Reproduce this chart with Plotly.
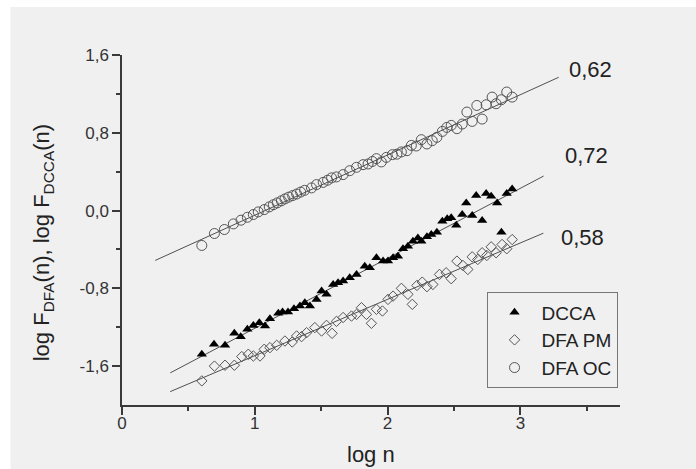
import numpy as np
import plotly.graph_objects as go

# ---- measured points (log n, log F) ----
dcca_x = [0.601, 0.693, 0.776, 0.846, 0.894, 0.944, 0.989, 1.034, 1.077, 1.114,
          1.177, 1.209, 1.250, 1.295, 1.340, 1.377, 1.415, 1.465, 1.503, 1.540,
          1.590, 1.627, 1.665, 1.715, 1.766, 1.828, 1.866, 1.916, 1.966, 2.003,
          2.041, 2.078, 2.116, 2.153, 2.191, 2.228, 2.254, 2.296, 2.329, 2.371,
          2.412, 2.449, 2.479, 2.517, 2.562, 2.592, 2.637, 2.667, 2.712, 2.742,
          2.780, 2.825, 2.857, 2.897, 2.938]
dcca_y = [-1.478, -1.376, -1.386, -1.263, -1.297, -1.222, -1.181, -1.153, -1.188, -1.112,
          -1.057, -1.044, -1.044, -1.009, -0.982, -0.948, -0.982, -0.914, -0.828, -0.862,
          -0.760, -0.742, -0.725, -0.691, -0.657, -0.572, -0.588, -0.486, -0.520, -0.520,
          -0.486, -0.469, -0.393, -0.366, -0.315, -0.281, -0.315, -0.270, -0.246, -0.223,
          -0.110, -0.085, -0.075, -0.151, -0.041, 0.079, -0.051, 0.154, -0.103, 0.175,
          0.147, 0.079, -0.223, 0.175, 0.223]

pm_x = [0.601, 0.696, 0.776, 0.846, 0.902, 0.951, 0.989, 1.039, 1.071, 1.114,
        1.165, 1.227, 1.282, 1.315, 1.352, 1.390, 1.452, 1.503, 1.540, 1.582,
        1.615, 1.665, 1.728, 1.766, 1.803, 1.841, 1.878, 1.916, 1.961, 2.003,
        2.041, 2.104, 2.153, 2.186, 2.221, 2.261, 2.296, 2.341, 2.391, 2.441,
        2.479, 2.522, 2.567, 2.604, 2.637, 2.679, 2.712, 2.747, 2.780, 2.817,
        2.862, 2.897, 2.938]
pm_y = [-1.752, -1.600, -1.591, -1.591, -1.502, -1.478, -1.496, -1.496, -1.427, -1.410,
        -1.386, -1.342, -1.352, -1.290, -1.297, -1.256, -1.204, -1.239, -1.181, -1.263,
        -1.140, -1.100, -1.085, -1.068, -0.999, -1.068, -1.160, -1.016, -1.033, -0.914,
        -0.880, -0.800, -0.862, -0.965, -0.770, -0.736, -0.783, -0.760, -0.657, -0.640,
        -0.701, -0.520, -0.565, -0.606, -0.476, -0.503, -0.434, -0.462, -0.373, -0.434,
        -0.349, -0.393, -0.298]

oc_x = [0.601, 0.696, 0.771, 0.839, 0.896, 0.944, 0.989, 1.026, 1.071, 1.109,
        1.140, 1.169, 1.200, 1.227, 1.255, 1.285, 1.315, 1.345, 1.375, 1.427,
        1.465, 1.515, 1.548, 1.578, 1.615, 1.665, 1.715, 1.766, 1.815, 1.853,
        1.885, 1.916, 1.953, 1.991, 2.036, 2.070, 2.104, 2.146, 2.179, 2.216,
        2.254, 2.296, 2.336, 2.371, 2.412, 2.446, 2.479, 2.522, 2.562, 2.597,
        2.637, 2.672, 2.712, 2.742, 2.787, 2.817, 2.857, 2.897, 2.938]
oc_y = [-0.359, -0.236, -0.195, -0.137, -0.099, -0.069, -0.041, -0.014, 0.010, 0.038,
        0.060, 0.079, 0.100, 0.120, 0.138, 0.154, 0.170, 0.190, 0.208, 0.233,
        0.267, 0.290, 0.312, 0.336, 0.346, 0.370, 0.410, 0.445, 0.472, 0.479,
        0.505, 0.534, 0.500, 0.547, 0.575, 0.580, 0.603, 0.616, 0.670, 0.664,
        0.729, 0.685, 0.719, 0.753, 0.814, 0.855, 0.876, 0.842, 0.890, 1.013,
        0.917, 1.081, 0.941, 1.088, 1.167, 1.099, 1.140, 1.219, 1.167]

# ---- linear fits: slope, intercept, x extent ----
fit_names = ["DFA OC", "DCCA", "DFA PM"]
fit_slopes = [0.62, 0.72, 0.58]
fit_intercepts = [-0.668, -1.931, -2.073]
fit_x0 = [0.25, 0.363, 0.363]
fit_x1 = [3.288, 3.175, 3.173]
# slope label anchor (x, y) in data units
label_x = [3.53, 3.50, 3.47]
label_y = [1.45, 0.565, -0.272]

x_ticks = [0, 1, 2, 3]
x_ticktext = ["0", "1", "2", "3"]
y_ticks = [-1.6, -0.8, 0.0, 0.8, 1.6]
y_ticktext = ["-1,6", "-0,8", "0,0", "0,8", "1,6"]

FONT = "Liberation Sans, Arial, sans-serif"
AX = "#3a3a3a"

fig = go.Figure()

for s, b, a0, a1 in zip(fit_slopes, fit_intercepts, fit_x0, fit_x1):
    xs = np.array([a0, a1])
    fig.add_trace(go.Scatter(x=xs, y=s * xs + b, mode="lines",
                             line=dict(color="#505050", width=1),
                             showlegend=False, hoverinfo="skip"))

fig.add_trace(go.Scatter(x=dcca_x, y=dcca_y, mode="markers", name="DCCA",
                         marker=dict(symbol="triangle-up", size=9, color="black",
                                     line=dict(width=0))))
fig.add_trace(go.Scatter(x=pm_x, y=pm_y, mode="markers", name="DFA PM",
                         marker=dict(symbol="diamond-open", size=8, color="#555555",
                                     line=dict(width=1))))
fig.add_trace(go.Scatter(x=oc_x, y=oc_y, mode="markers", name="DFA OC",
                         marker=dict(symbol="circle-open", size=10, color="#555555",
                                     line=dict(width=1))))

for s, lx, ly in zip(fit_slopes, label_x, label_y):
    fig.add_annotation(x=lx, y=ly, xref="x", yref="y", showarrow=False,
                       text=f"{s:.2f}".replace(".", ","),
                       font=dict(family=FONT, size=22, color="#222222"))

# vertical axis title
fig.add_annotation(xref="paper", yref="paper", x=-0.158, y=0.463,
                   xanchor="center", yanchor="middle",
                   showarrow=False, textangle=-90,
                   text="log F<sub>DFA</sub>(n), log F<sub>DCCA</sub>(n)",
                   font=dict(family=FONT, size=22, color="#222222"))

# horizontal axis title
fig.add_annotation(xref="paper", yref="paper", x=0.5, y=-0.182,
                   xanchor="center", yanchor="bottom",
                   showarrow=False, text="log n",
                   font=dict(family=FONT, size=22, color="#222222"))

# grey panel behind the chart
fig.add_shape(type="rect", xref="paper", yref="paper", layer="below",
              x0=-0.224, x1=1.5, y0=-0.5, y1=1.137,
              fillcolor="#f0f0f0", line=dict(width=0))

fig.update_layout(
    width=696, height=469,
    margin=dict(l=122, r=76, t=55, b=64),
    paper_bgcolor="white", plot_bgcolor="rgba(0,0,0,0)",
    font=dict(family=FONT, color="#333333"),
    showlegend=True,
    legend=dict(x=0.732, y=0.322, xanchor="left", yanchor="top",
                bgcolor="rgba(0,0,0,0)", bordercolor="#777777", borderwidth=1,
                font=dict(family=FONT, size=19, color="#222222"),
                itemwidth=44, tracegroupgap=0),
)

fig.update_xaxes(range=[0, 3.75], showline=True, linecolor=AX, linewidth=1.5,
                 showgrid=False, zeroline=False, ticks="outside", ticklen=8,
                 tickwidth=1.5, tickcolor=AX, tickvals=x_ticks, ticktext=x_ticktext,
                 tickfont=dict(family=FONT, size=17, color="#333333"),
                 ticklabelstandoff=-6, automargin=False,
                 minor=dict(tickvals=[0.5, 1.5, 2.5, 3.5], ticks="outside",
                            ticklen=4, tickwidth=1.5, tickcolor=AX))
fig.update_yaxes(range=[-2.0, 1.6], showline=True, linecolor=AX, linewidth=1.5,
                 showgrid=False, zeroline=False, ticks="outside", ticklen=8,
                 tickwidth=1.5, tickcolor=AX, tickvals=y_ticks, ticktext=y_ticktext,
                 tickfont=dict(family=FONT, size=17, color="#333333"),
                 automargin=False,
                 minor=dict(tickvals=[-1.2, -0.4, 0.4, 1.2], ticks="outside",
                            ticklen=4, tickwidth=1.5, tickcolor=AX))

fig.write_html("out.html")
